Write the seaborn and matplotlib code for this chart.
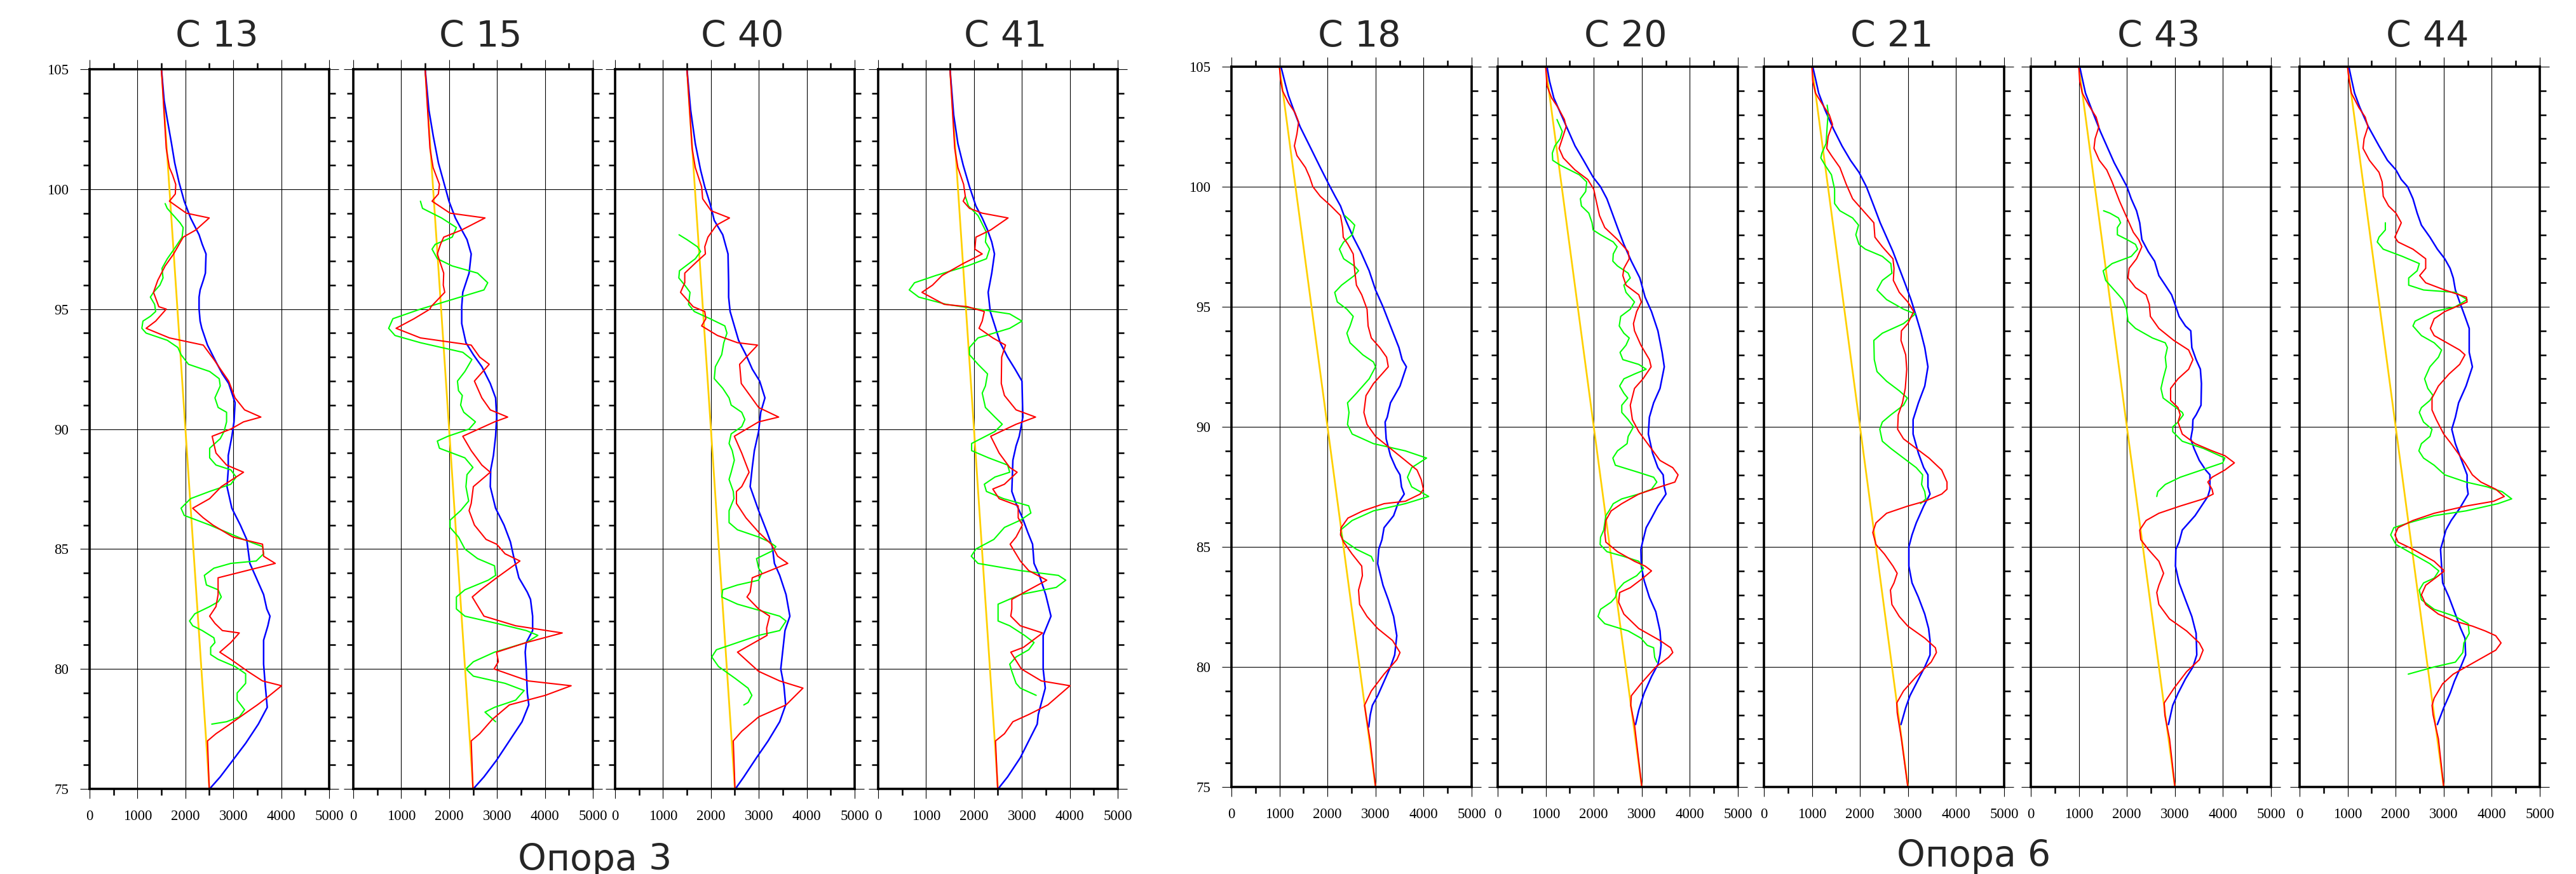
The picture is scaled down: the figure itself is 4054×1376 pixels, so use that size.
import matplotlib
matplotlib.use("Agg")
import matplotlib.pyplot as plt
from matplotlib.ticker import MultipleLocator
import seaborn as sns
import pandas as pd

sns.set_theme(style="white")
plt.rcParams["font.family"] = ["DejaVu Sans"]

# ── Data: (depth, value) pairs ────────────────────────────────────────────────
# group "Опора 3"
YELLOW_3 = [(105, 1500), (75, 2500)]

C13_BLUE = [(105, 1500), (103.7, 1556), (102.9, 1622), (101.9, 1710), (101.1, 1776), (100.3, 1865),
            (99.5, 1975), (98.8, 2108), (98.1, 2285), (97.7, 2351), (97.3, 2430), (96.5, 2417),
            (96.2, 2373), (95.8, 2307), (95.5, 2285), (95.0, 2285), (94.5, 2307), (94.2, 2342),
            (93.5, 2461), (92.8, 2638), (92.3, 2771), (91.9, 2903), (91.1, 3036), (90.3, 3014),
            (89.7, 2970), (88.9, 2894), (88.3, 2894), (87.6, 2868), (86.7, 2969), (86.0, 3146),
            (85.4, 3279), (84.4, 3345), (83.8, 3478), (83.1, 3632), (82.5, 3699), (82.2, 3765),
            (81.8, 3721), (81.2, 3632), (80.2, 3632), (79.4, 3663), (78.4, 3708), (77.7, 3522),
            (76.9, 3257), (76.2, 2992), (75.5, 2726), (75.0, 2505)]
C13_RED = [(105, 1500), (101.7, 1600), (100.9, 1666), (100.6, 1730), (100.2, 1798), (99.8, 1789),
           (99.5, 1666), (99.0, 2019), (98.8, 2497), (98.3, 2218), (98.0, 1953), (97.3, 1754),
           (96.8, 1577), (96.2, 1423), (95.7, 1334), (95.1, 1445), (95.0, 1600), (94.5, 1379),
           (94.2, 1180), (93.8, 1666), (93.5, 2373), (92.9, 2594), (92.0, 2903), (91.3, 3036),
           (90.8, 3235), (90.5, 3575), (90.3, 3213), (90.0, 2948), (89.7, 2558), (89.0, 2638),
           (88.5, 2859), (88.2, 3213), (87.6, 2749), (87.1, 2506), (86.7, 2152), (86.3, 2373),
           (86.0, 2572), (85.5, 2992), (85.2, 3610), (84.7, 3632), (84.4, 3875), (83.8, 2682),
           (83.1, 2682), (82.6, 2638), (82.2, 2505), (81.9, 2616), (81.6, 2771), (81.5, 3124),
           (81.1, 2947), (80.7, 2718), (80.4, 2948), (79.9, 3301), (79.5, 3610), (79.3, 4008),
           (78.8, 3699), (78.5, 3500), (78.1, 3213), (77.6, 2859), (77.3, 2638), (77.0, 2461),
           (75.0, 2497)]
C13_GREEN = [(99.4, 1577), (99.2, 1620), (98.9, 1754), (98.6, 1887), (98.4, 1953), (98.0, 1931),
             (97.6, 1798), (97.1, 1622), (96.7, 1511), (96.3, 1533), (96.0, 1467), (95.7, 1334),
             (95.5, 1268), (95.2, 1357), (94.9, 1379), (94.7, 1268), (94.5, 1113), (94.2, 1091),
             (94.0, 1180), (93.7, 1622), (93.4, 1842), (93.1, 1909), (92.7, 2064), (92.4, 2506),
             (92.1, 2705), (91.8, 2727), (91.3, 2616), (90.9, 2683), (90.7, 2859), (90.3, 2859),
             (89.9, 2806), (89.6, 2727), (89.2, 2506), (88.8, 2506), (88.5, 2638), (88.3, 2947),
             (88.0, 3058), (87.7, 2948), (87.4, 2506), (87.1, 2108), (86.7, 1909), (86.4, 1975),
             (86.0, 2506), (85.4, 3213), (85.1, 3610), (84.8, 3632), (84.5, 3478), (84.4, 2948),
             (84.2, 2594), (83.9, 2395), (83.5, 2439), (83.3, 2683), (83.0, 2749), (82.8, 2683),
             (82.6, 2506), (82.3, 2196), (82.0, 2086), (81.8, 2152), (81.6, 2351), (81.3, 2594),
             (81.1, 2616), (80.9, 2527), (80.6, 2527), (80.4, 2683), (80.1, 3036), (79.8, 3257),
             (79.4, 3257), (79.0, 3080), (78.7, 3080), (78.3, 3235), (78.0, 3124), (77.8, 2859),
             (77.7, 2550)]

C15_BLUE = [(105, 1500), (103.3, 1578), (102.2, 1670), (101.1, 1776), (100.3, 1887), (99.5, 1997),
            (98.8, 2130), (98.3, 2263), (97.9, 2373), (97.3, 2461), (96.5, 2417), (95.7, 2285),
            (95.1, 2263), (94.4, 2263), (93.6, 2351), (93.1, 2506), (92.6, 2683), (91.9, 2859),
            (91.3, 2970), (90.5, 2992), (89.7, 2970), (88.9, 2925), (88.3, 2868), (87.6, 2859),
            (86.7, 2970), (86.0, 3146), (85.3, 3279), (84.7, 3345), (83.8, 3456), (83.2, 3632),
            (82.9, 3699), (82.2, 3743), (81.6, 3743), (81.1, 3610), (80.7, 3588), (80.0, 3610),
            (79.0, 3632), (78.5, 3663), (77.8, 3522), (77.0, 3257), (76.2, 2992), (75.5, 2727),
            (75.0, 2505)]
C15_RED = [(105, 1500), (101.7, 1600), (100.9, 1666), (100.2, 1798), (99.8, 1776), (99.5, 1644),
           (99.0, 2020), (98.8, 2749), (98.3, 2263), (98.0, 1887), (97.7, 1820), (97.3, 1754),
           (96.9, 1820), (96.5, 1887), (96.0, 1878), (95.7, 1909), (95.1, 1622), (95.0, 1600),
           (94.6, 1268), (94.2, 893), (93.8, 1401), (93.5, 2461), (93.0, 2638), (92.7, 2837),
           (92.0, 2528), (91.3, 2683), (90.8, 2859), (90.5, 3222), (90.3, 2948), (89.7, 2285),
           (89.1, 2461), (88.5, 2683), (88.2, 2859), (87.6, 2506), (86.9, 2461), (86.6, 2417),
           (86.0, 2528), (85.4, 2771), (85.2, 2992), (84.8, 3168), (84.5, 3478), (83.8, 2992),
           (83.3, 2660), (83.0, 2483), (82.2, 2727), (81.8, 3389), (81.5, 4361), (81.1, 3610),
           (80.7, 2992), (80.3, 3027), (80.0, 2938), (79.5, 3654), (79.3, 4547), (78.9, 4008),
           (78.5, 3257), (77.9, 2903), (77.3, 2638), (77.0, 2461), (75.0, 2497)]
C15_GREEN = [(99.5, 1401), (99.2, 1445), (98.8, 1842), (98.4, 2152), (98.0, 2064), (97.7, 1710),
             (97.5, 1644), (97.1, 1754), (96.8, 2064), (96.5, 2594), (96.1, 2806), (95.8, 2727),
             (95.4, 2064), (95.0, 1401), (94.6, 826), (94.2, 738), (93.9, 871), (93.6, 1401),
             (93.4, 1842), (93.2, 2285), (92.9, 2475), (92.4, 2329), (92.0, 2174), (91.6, 2196),
             (91.4, 2276), (91.0, 2240), (90.7, 2306), (90.3, 2550), (90.0, 2417), (89.7, 1975),
             (89.5, 1754), (89.2, 1798), (88.8, 2329), (88.4, 2497), (88.1, 2373), (87.6, 2351),
             (87.0, 2408), (86.6, 2240), (86.2, 2020), (85.9, 2020), (85.5, 2196), (85.0, 2329),
             (84.6, 2594), (84.3, 2948), (83.9, 2970), (83.7, 2815), (83.3, 2329), (83.0, 2152),
             (82.5, 2152), (82.2, 2329), (81.9, 2992), (81.6, 3610), (81.4, 3853), (81.1, 3610),
             (80.7, 2948), (80.3, 2506), (80.0, 2351), (79.7, 2506), (79.4, 3168), (79.1, 3566),
             (78.7, 3389), (78.4, 2947), (78.2, 2749), (77.8, 2970)]

C40_BLUE = [(105, 1500), (103.3, 1577), (101.9, 1674), (100.8, 1784), (100.1, 1872), (99.4, 1982),
            (98.7, 2070), (98.1, 2247), (97.3, 2357), (96.1, 2370), (95.5, 2370), (94.9, 2401),
            (94.3, 2489), (93.7, 2577), (93.1, 2731), (92.5, 2863), (92.0, 3018), (91.3, 3128),
            (90.7, 3040), (89.9, 2996), (89.1, 2907), (88.4, 2863), (87.6, 2819), (86.6, 2996),
            (85.7, 3172), (85.1, 3282), (84.4, 3326), (83.9, 3436), (83.1, 3568), (82.2, 3648),
            (81.6, 3546), (80.8, 3502), (80.0, 3458), (79.3, 3524), (78.5, 3560), (77.8, 3436),
            (77.0, 3194), (76.3, 2952), (75.5, 2687), (75.0, 2511)]
C40_RED = [(105, 1500), (101.7, 1608), (100.9, 1674), (100.1, 1806), (99.6, 1828), (99.1, 2004),
           (98.8, 2388), (98.5, 2115), (98.0, 1938), (97.6, 1872), (97.3, 1885), (97.0, 1718),
           (96.5, 1454), (96.1, 1454), (95.7, 1366), (95.1, 1630), (94.9, 1872), (94.6, 1894),
           (94.3, 1806), (93.9, 2137), (93.6, 2555), (93.5, 2973), (92.7, 2599), (91.9, 2634),
           (90.9, 2996), (90.5, 3414), (90.3, 2996), (89.7, 2489), (89.0, 2643), (88.2, 2797),
           (87.6, 2643), (87.4, 2533), (86.9, 2533), (86.3, 2731), (85.7, 2996), (85.2, 3260),
           (84.7, 3392), (84.4, 3604), (83.8, 2863), (83.2, 2819), (83.0, 2753), (82.5, 2996),
           (82.2, 3225), (81.7, 3163), (81.4, 3172), (81.0, 2819), (80.7, 2555), (79.9, 2996),
           (79.5, 3436), (79.2, 3921), (78.5, 3568), (78.0, 2996), (77.7, 2819), (77.4, 2643),
           (77.0, 2467), (75.0, 2502)]
C40_GREEN = [(98.1, 1335), (97.9, 1498), (97.6, 1718), (97.4, 1784), (97.1, 1674), (96.6, 1344),
             (96.3, 1330), (96.0, 1454), (95.7, 1564), (95.2, 1533), (94.9, 1652), (94.6, 1982),
             (94.3, 2291), (94.0, 2335), (93.6, 2269), (93.1, 2225), (92.6, 2093), (92.1, 2070),
             (91.7, 2247), (91.3, 2379), (91.0, 2423), (90.7, 2643), (90.4, 2709), (90.1, 2643),
             (89.8, 2423), (89.4, 2379), (89.1, 2445), (88.7, 2489), (88.2, 2423), (87.9, 2379),
             (87.4, 2467), (87.1, 2480), (86.6, 2379), (86.1, 2379), (85.8, 2555), (85.5, 2996),
             (85.3, 3216), (85.1, 3357), (84.9, 3260), (84.6, 2952), (84.2, 2996), (84.0, 3062),
             (83.7, 2996), (83.5, 2555), (83.3, 2247), (83.0, 2225), (82.7, 2555), (82.4, 3084),
             (82.2, 3436), (82.0, 3568), (81.6, 3436), (81.4, 2996), (81.1, 2555), (80.8, 2115),
             (80.5, 2018), (80.1, 2159), (79.6, 2511), (79.2, 2775), (78.9, 2855), (78.6, 2775),
             (78.5, 2687)]

C41_BLUE = [(105, 1500), (103.1, 1576), (101.9, 1664), (101.0, 1775), (100.1, 1907), (99.3, 2040),
            (98.8, 2172), (98.3, 2283), (97.8, 2371), (97.3, 2428), (96.5, 2371), (95.7, 2296),
            (94.9, 2340), (94.3, 2437), (93.6, 2547), (93.0, 2702), (92.5, 2857), (92.0, 3002),
            (90.5, 3020), (89.7, 2945), (89.3, 2879), (88.7, 2812), (87.4, 2790), (86.9, 2879),
            (86.3, 3011), (85.7, 3122), (85.2, 3223), (84.4, 3254), (83.9, 3364), (83.1, 3497),
            (82.2, 3607), (81.4, 3444), (80.0, 3444), (79.2, 3488), (78.6, 3408), (78.1, 3342),
            (77.7, 3320), (77.0, 3143), (76.3, 2967), (75.5, 2702), (75.0, 2503)]
C41_RED = [(105, 1500), (101.7, 1598), (100.9, 1664), (100.2, 1784), (99.7, 1819), (99.5, 1775),
           (99.2, 1907), (99.0, 2172), (98.8, 2711), (98.3, 2349), (98.0, 2040), (97.5, 2018),
           (97.3, 2172), (96.9, 1775), (96.4, 1333), (96.0, 1135), (95.7, 914), (95.2, 1377),
           (95.1, 1863), (94.9, 2216), (94.5, 2172), (94.2, 2106), (93.8, 2393), (93.5, 2658),
           (93.0, 2578), (91.9, 2570), (91.4, 2636), (90.8, 2879), (90.5, 3285), (90.2, 2879),
           (89.7, 2349), (89.0, 2525), (88.4, 2746), (88.2, 2901), (87.7, 2636), (87.5, 2393),
           (87.1, 2525), (86.8, 2923), (86.3, 2923), (86.0, 3011), (85.5, 2879), (85.2, 2755),
           (84.5, 2967), (84.1, 3143), (83.7, 3519), (83.2, 3055), (82.9, 2790), (82.5, 2790),
           (82.2, 2768), (81.8, 2967), (81.5, 3431), (80.9, 3033), (80.7, 2768), (80.0, 2989),
           (79.5, 3408), (79.3, 4004), (78.5, 3541), (78.1, 3143), (77.8, 2812), (77.3, 2636),
           (77.0, 2450), (75.0, 2494)]
C41_GREEN = [(99.7, 1819), (99.3, 1885), (98.9, 2084), (98.2, 2260), (97.8, 2239), (97.5, 2327),
             (97.1, 2260), (96.8, 1863), (96.4, 1201), (96.1, 759), (95.8, 649), (95.5, 848),
             (95.2, 1421), (95.0, 2084), (94.8, 2746), (94.5, 3002), (94.2, 2746), (93.8, 2084),
             (93.4, 1907), (93.1, 1907), (92.7, 2084), (92.3, 2283), (91.8, 2239), (91.5, 2172),
             (90.9, 2239), (90.5, 2437), (90.2, 2591), (89.9, 2437), (89.4, 1951), (89.1, 1951),
             (88.8, 2305), (88.5, 2702), (88.2, 2746), (88.0, 2437), (87.7, 2216), (87.4, 2260),
             (87.1, 2614), (86.8, 3143), (86.5, 3188), (86.2, 2967), (85.9, 2636), (85.4, 2415),
             (85.0, 2040), (84.7, 1943), (84.4, 2084), (84.1, 2967), (83.9, 3762), (83.7, 3916),
             (83.4, 3717), (83.1, 2967), (82.7, 2503), (82.0, 2503), (81.8, 2746), (81.4, 3055),
             (81.1, 3254), (80.8, 3143), (80.5, 2879), (80.2, 2746), (79.9, 2790), (79.4, 2879),
             (79.2, 2967), (78.9, 3298)]

# group "Опора 6"
YELLOW_6 = [(105, 1000), (75, 3000)]

C18_BLUE = [(105, 1031), (104.3, 1119), (103.8, 1186), (103.2, 1296), (102.5, 1429), (101.7, 1628),
            (100.8, 1850), (100.1, 2027), (99.6, 2159), (99.2, 2270), (98.6, 2381), (97.9, 2535),
            (97.3, 2690), (96.5, 2867), (95.7, 3000), (95.0, 3155), (94.2, 3310), (93.3, 3487),
            (92.8, 3553), (92.5, 3642), (91.7, 3509), (91.0, 3310), (90.4, 3243), (90.2, 3199),
            (89.5, 3221), (88.8, 3310), (88.3, 3420), (88.0, 3509), (87.5, 3540), (87.2, 3597),
            (86.8, 3465), (86.3, 3376), (85.8, 3177), (85.3, 3133), (84.9, 3066), (84.3, 3044),
            (83.4, 3155), (82.8, 3265), (82.1, 3376), (81.3, 3442), (80.5, 3398), (80.0, 3310),
            (79.4, 3177), (78.8, 3044), (78.4, 2934), (78.0, 2889), (77.5, 2858)]
C18_RED = [(105, 1000), (104.5, 1018), (104.0, 1062), (103.5, 1186), (103.1, 1319), (102.7, 1398),
           (102.2, 1363), (101.7, 1310), (101.3, 1363), (100.8, 1540), (100.4, 1628), (100.0, 1695),
           (99.6, 1850), (99.2, 2071), (98.8, 2270), (98.3, 2314), (97.9, 2327), (97.6, 2425),
           (97.2, 2535), (96.5, 2566), (95.9, 2602), (95.5, 2712), (94.9, 2823), (94.2, 2845),
           (93.7, 2912), (93.3, 3088), (92.9, 3230), (92.5, 3265), (92.2, 3133), (91.8, 2956),
           (91.3, 2801), (90.6, 2757), (90.1, 2823), (89.6, 3000), (89.1, 3310), (88.6, 3619),
           (88.2, 3863), (87.8, 3951), (87.4, 3996), (87.2, 3929), (86.9, 3619), (86.8, 3177),
           (86.5, 2735), (86.2, 2425), (85.8, 2283), (85.5, 2270), (85.2, 2336), (84.7, 2513),
           (84.2, 2712), (83.8, 2726), (83.2, 2646), (82.6, 2668), (82.1, 2823), (81.6, 3044),
           (81.1, 3354), (80.6, 3509), (80.3, 3442), (79.7, 3177), (79.0, 2912), (78.4, 2770),
           (78.0, 2801), (76.9, 2889), (75.0, 3000)]
C18_GREEN = [(98.8, 2358), (98.6, 2469), (98.4, 2566), (98.0, 2513), (97.7, 2336), (97.4, 2248),
             (97.0, 2336), (96.7, 2558), (96.5, 2646), (96.3, 2558), (95.9, 2292), (95.6, 2150),
             (95.2, 2204), (94.9, 2403), (94.6, 2535), (94.2, 2469), (93.9, 2403), (93.5, 2469),
             (93.0, 2735), (92.7, 2956), (92.5, 3000), (92.0, 2867), (91.4, 2602), (91.0, 2416),
             (90.6, 2447), (90.1, 2416), (89.7, 2513), (89.3, 2956), (89.0, 3619), (88.7, 4062),
             (88.3, 3752), (87.9, 3664), (87.5, 3752), (87.1, 4106), (86.8, 3619), (86.5, 2956),
             (86.1, 2513), (85.7, 2270), (85.3, 2314), (84.9, 2602), (84.6, 2912), (84.4, 2956)]

C20_BLUE = [(105, 1026), (104.4, 1079), (103.7, 1168), (103.1, 1300), (102.5, 1433), (101.7, 1610),
            (101.1, 1787), (100.4, 1986), (100.0, 2141), (99.5, 2273), (98.9, 2384), (98.3, 2494),
            (97.6, 2627), (96.9, 2782), (96.2, 2959), (95.4, 3069), (94.8, 3202), (94.0, 3335),
            (93.1, 3423), (92.5, 3468), (91.6, 3379), (91.0, 3246), (90.4, 3158), (89.7, 3136),
            (88.9, 3225), (88.3, 3335), (88.0, 3445), (87.5, 3467), (87.2, 3503), (86.7, 3335),
            (86.2, 3202), (85.8, 3091), (85.2, 3016), (84.9, 2981), (84.2, 2990), (83.6, 3048),
            (82.9, 3158), (82.3, 3291), (81.5, 3379), (80.9, 3401), (80.5, 3379), (80.1, 3335),
            (79.6, 3202), (78.9, 3047), (78.2, 2937), (77.6, 2870)]
C20_RED = [(105, 1000), (104.2, 1026), (103.7, 1123), (103.3, 1256), (102.8, 1389), (102.5, 1424),
           (102.0, 1344), (101.6, 1278), (101.2, 1366), (100.7, 1610), (100.3, 1875), (99.9, 1999),
           (99.4, 2052), (98.8, 2119), (98.3, 2229), (97.8, 2494), (97.3, 2716), (97.0, 2738),
           (96.6, 2627), (96.3, 2605), (95.9, 2672), (95.5, 2937), (95.2, 2990), (94.8, 2893),
           (94.3, 2826), (94.0, 2848), (93.4, 2981), (92.8, 3158), (92.5, 3194), (92.0, 3025),
           (91.6, 2848), (90.9, 2760), (90.3, 2804), (89.8, 2937), (89.2, 3158), (88.6, 3379),
           (88.3, 3644), (88.0, 3755), (87.7, 3689), (87.5, 3379), (87.2, 2937), (86.8, 2583),
           (86.5, 2362), (86.1, 2251), (85.6, 2229), (85.2, 2251), (84.8, 2494), (84.4, 2848),
           (84.2, 3069), (84.0, 3202), (83.7, 3025), (83.3, 2760), (83.1, 2539), (82.7, 2517),
           (82.2, 2627), (81.6, 2937), (81.1, 3379), (80.8, 3600), (80.6, 3645), (80.4, 3556),
           (80.0, 3291), (79.3, 2981), (78.8, 2782), (78.4, 2769), (77.6, 2848), (75.0, 3000)]
C20_GREEN = [(102.8, 1234), (102.5, 1300), (102.3, 1345), (102.0, 1300), (101.7, 1190), (101.4, 1137),
             (101.1, 1146), (100.9, 1300), (100.5, 1698), (100.2, 1853), (99.8, 1831), (99.5, 1721),
             (99.2, 1743), (98.9, 1897), (98.5, 1964), (98.2, 1986), (98.0, 2141), (97.7, 2406),
             (97.5, 2486), (97.2, 2406), (96.9, 2397), (96.7, 2494), (96.4, 2716), (96.2, 2760),
             (95.9, 2627), (95.6, 2671), (95.2, 2848), (94.9, 2760), (94.6, 2561), (94.2, 2530),
             (93.9, 2627), (93.7, 2738), (93.4, 2671), (93.1, 2547), (92.8, 2605), (92.6, 2937),
             (92.4, 3091), (92.2, 2848), (92.0, 2627), (91.7, 2539), (91.4, 2627), (91.2, 2707),
             (90.9, 2583), (90.6, 2583), (90.3, 2716), (90.0, 2826), (89.6, 2716), (89.3, 2694),
             (89.0, 2494), (88.7, 2397), (88.4, 2450), (88.1, 2937), (87.9, 3247), (87.7, 3313),
             (87.4, 3202), (87.2, 2937), (87.0, 2583), (86.8, 2406), (86.5, 2318), (86.3, 2251),
             (86.0, 2229), (85.7, 2207), (85.4, 2141), (85.1, 2132), (84.8, 2274), (84.6, 2627),
             (84.4, 2937), (84.1, 3034), (83.8, 2893), (83.5, 2627), (83.2, 2494), (82.9, 2450),
             (82.7, 2362), (82.4, 2141), (82.1, 2088), (81.8, 2229), (81.5, 2716), (81.2, 2981),
             (80.9, 3113), (80.8, 3246), (80.4, 3268), (80.2, 3313)]

C21_BLUE = [(105, 1016), (104.5, 1073), (103.9, 1140), (103.2, 1272), (102.4, 1449), (101.7, 1625),
            (101.1, 1802), (100.6, 1979), (100.0, 2133), (99.2, 2288), (98.5, 2420), (97.9, 2553),
            (97.3, 2686), (96.6, 2818), (95.9, 2951), (95.3, 3061), (94.6, 3171), (94.0, 3260),
            (93.3, 3348), (92.5, 3414), (91.7, 3348), (91.0, 3216), (90.3, 3105), (89.7, 3105),
            (88.9, 3216), (88.3, 3326), (88.0, 3414), (87.5, 3414), (87.2, 3458), (86.7, 3326),
            (86.0, 3171), (85.5, 3083), (85.0, 3017), (84.2, 3017), (83.5, 3083), (82.9, 3216),
            (82.2, 3348), (81.6, 3428), (81.1, 3458), (80.5, 3458), (80.0, 3348), (79.4, 3194),
            (78.8, 3039), (78.3, 2951), (77.6, 2853)]
C21_RED = [(105, 1000), (104.4, 1016), (103.9, 1073), (103.4, 1228), (103.0, 1360), (102.6, 1427),
           (102.1, 1338), (101.6, 1307), (101.3, 1405), (100.8, 1581), (100.1, 1714), (99.5, 1846),
           (98.9, 2111), (98.5, 2288), (97.9, 2310), (97.5, 2465), (97.0, 2686), (96.6, 2708),
           (96.1, 2694), (95.6, 2818), (95.2, 2995), (94.8, 3118), (94.3, 2995), (94.0, 2862),
           (93.6, 2853), (93.0, 2951), (92.4, 2973), (91.6, 2942), (91.0, 2884), (90.5, 2796),
           (89.9, 2783), (89.5, 2906), (89.1, 3171), (88.7, 3436), (88.2, 3701), (87.7, 3811),
           (87.4, 3811), (87.2, 3701), (86.9, 3348), (86.7, 2995), (86.4, 2553), (86.0, 2332),
           (85.6, 2266), (85.1, 2332), (84.7, 2509), (84.2, 2686), (83.9, 2774), (83.5, 2708),
           (83.2, 2633), (82.6, 2664), (82.1, 2818), (81.7, 2995), (81.2, 3348), (80.8, 3569),
           (80.6, 3591), (80.2, 3480), (79.6, 3171), (79.0, 2906), (78.5, 2765), (78.1, 2774),
           (77.0, 2862), (75.0, 2995)]
C21_GREEN = [(103.4, 1316), (103.1, 1338), (102.5, 1316), (101.8, 1294), (101.4, 1206), (101.2, 1184),
             (100.9, 1272), (100.5, 1405), (99.9, 1471), (99.3, 1471), (99.0, 1581), (98.7, 1846),
             (98.4, 1970), (98.0, 1913), (97.6, 1979), (97.4, 2111), (97.1, 2465), (96.8, 2642),
             (96.4, 2664), (96.1, 2465), (95.7, 2354), (95.3, 2553), (94.9, 2906), (94.7, 3151),
             (94.3, 2906), (93.9, 2465), (93.6, 2288), (92.8, 2297), (92.3, 2354), (91.9, 2553),
             (91.5, 2818), (91.2, 2986), (90.9, 2906), (90.5, 2642), (90.2, 2465), (89.9, 2412),
             (89.4, 2465), (89.1, 2642), (88.7, 2906), (88.3, 3171), (88.0, 3304), (87.6, 3282),
             (87.3, 3348), (87.0, 3370), (86.8, 3260)]

C43_BLUE = [(105, 1018), (104.5, 1072), (103.9, 1138), (103.2, 1271), (102.3, 1448), (101.6, 1603),
            (101.0, 1736), (100.5, 1869), (100.0, 2002), (99.5, 2090), (99.0, 2201), (98.5, 2267),
            (97.8, 2312), (97.3, 2444), (96.9, 2577), (96.3, 2666), (95.9, 2799), (95.5, 2931),
            (95.0, 3020), (94.6, 3087), (94.2, 3219), (94.0, 3330), (93.3, 3352), (92.8, 3441),
            (92.4, 3530), (91.8, 3552), (90.9, 3543), (90.5, 3441), (90.3, 3375), (89.9, 3366),
            (89.5, 3330), (89.1, 3397), (88.6, 3508), (88.2, 3640), (88.0, 3729), (87.4, 3729),
            (87.1, 3685), (86.7, 3552), (86.3, 3419), (86.0, 3286), (85.7, 3153), (85.2, 3087),
            (84.9, 3020), (84.2, 3011), (83.5, 3087), (82.8, 3219), (82.1, 3352), (81.4, 3441),
            (80.5, 3455), (80.0, 3375), (79.5, 3219), (78.9, 3065), (78.4, 2954), (77.6, 2865)]
C43_RED = [(105, 1000), (104.4, 1018), (103.9, 1072), (103.4, 1205), (102.9, 1360), (102.5, 1417),
           (102.0, 1338), (101.6, 1315), (101.1, 1426), (100.7, 1581), (100.2, 1692), (99.4, 1847),
           (98.7, 2002), (98.1, 2135), (97.8, 2245), (97.5, 2312), (97.0, 2201), (96.6, 2046),
           (96.2, 2024), (95.8, 2179), (95.5, 2400), (95.1, 2467), (94.6, 2489), (94.1, 2666),
           (93.6, 2976), (93.2, 3286), (92.8, 3375), (92.4, 3286), (92.0, 3065), (91.6, 2910),
           (91.1, 2910), (90.8, 3065), (90.5, 3109), (90.2, 3065), (89.7, 3153), (89.3, 3419),
           (89.0, 3773), (88.8, 4039), (88.5, 4238), (88.2, 4039), (87.9, 3773), (87.7, 3685),
           (87.4, 3773), (87.2, 3796), (87.0, 3596), (86.7, 3109), (86.4, 2666), (86.1, 2400),
           (85.7, 2267), (85.3, 2290), (84.9, 2445), (84.4, 2666), (83.9, 2764), (83.4, 2666),
           (83.1, 2622), (82.6, 2666), (82.0, 2887), (81.5, 3242), (81.0, 3508), (80.7, 3587),
           (80.3, 3508), (79.8, 3242), (79.1, 2976), (78.5, 2777), (78.0, 2790), (77.0, 2888),
           (75.0, 3000)]
C43_GREEN = [(99.0, 1515), (98.9, 1647), (98.7, 1825), (98.5, 1869), (98.3, 1802), (98.0, 1802),
             (97.8, 2002), (97.6, 2179), (97.4, 2223), (97.1, 2091), (96.8, 1692), (96.5, 1506),
             (96.1, 1559), (95.7, 1736), (95.3, 1913), (94.9, 1993), (94.4, 2024), (94.1, 2179),
             (93.7, 2533), (93.5, 2799), (93.3, 2843), (92.9, 2799), (92.5, 2821), (92.0, 2755),
             (91.6, 2710), (91.2, 2755), (91.0, 2888), (90.6, 3153), (90.5, 3175), (90.2, 3065),
             (90.0, 2954), (89.8, 2954), (89.4, 3153), (89.1, 3596), (88.7, 4039), (88.5, 3995),
             (88.2, 3552), (87.9, 3109), (87.6, 2799), (87.3, 2644), (87.1, 2622)]

C44_BLUE = [(105, 1025), (104.5, 1078), (103.9, 1144), (103.3, 1255), (102.5, 1432), (101.7, 1653),
            (101.1, 1829), (100.7, 2006), (100.3, 2117), (100.0, 2249), (99.5, 2360), (98.9, 2448),
            (98.4, 2536), (97.9, 2713), (97.4, 2868), (97.0, 3022), (96.6, 3133), (96.2, 3199),
            (95.7, 3243), (95.2, 3332), (94.6, 3442), (94.1, 3531), (93.1, 3531), (92.5, 3597),
            (91.7, 3465), (91.0, 3310), (90.4, 3243), (89.9, 3168), (89.3, 3243), (88.7, 3354),
            (88.0, 3487), (87.5, 3487), (87.2, 3509), (86.6, 3332), (86.1, 3155), (85.7, 3045),
            (85.2, 2978), (84.9, 2934), (84.2, 2956), (83.5, 2978), (82.9, 3111), (82.2, 3243),
            (81.6, 3354), (81.2, 3442), (80.5, 3456), (80.0, 3354), (79.4, 3222), (78.9, 3133),
            (78.3, 3000), (77.6, 2868)]
C44_RED = [(105, 1000), (104.5, 1025), (103.9, 1078), (103.3, 1233), (102.9, 1366), (102.5, 1423),
           (102.0, 1343), (101.6, 1321), (101.1, 1454), (100.6, 1653), (100.2, 1719), (99.6, 1741),
           (99.2, 1852), (98.9, 2006), (98.5, 2117), (97.9, 1984), (97.7, 2050), (97.4, 2360),
           (97.0, 2625), (96.6, 2625), (96.3, 2500), (96.0, 2625), (95.7, 3022), (95.4, 3473),
           (95.2, 3487), (94.8, 3022), (94.5, 2802), (94.1, 2722), (93.8, 2802), (93.5, 3067),
           (93.2, 3332), (93.0, 3443), (92.6, 3332), (92.2, 3111), (91.7, 2890), (91.2, 2757),
           (90.7, 2757), (90.3, 2846), (89.7, 3000), (89.3, 3155), (88.5, 3442), (88.0, 3597),
           (87.7, 3774), (87.4, 4084), (87.1, 4261), (86.9, 4039), (86.7, 3464), (86.4, 2802),
           (86.1, 2360), (85.8, 2050), (85.5, 1984), (85.2, 2050), (84.9, 2360), (84.4, 2802),
           (84.0, 3013), (83.8, 2890), (83.4, 2625), (83.0, 2536), (82.6, 2625), (82.2, 2890),
           (81.9, 3243), (81.7, 3597), (81.5, 3862), (81.3, 4083), (81.0, 4194), (80.7, 4084),
           (80.4, 3818), (80.0, 3464), (79.7, 3199), (79.3, 2978), (78.7, 2802), (78.4, 2757),
           (78.0, 2779), (77.0, 2890), (75.0, 3000)]
C44_GREEN = [(98.5, 1785), (98.2, 1785), (97.9, 1653), (97.7, 1617), (97.4, 1741), (97.1, 2139),
             (96.8, 2492), (96.5, 2448), (96.2, 2271), (95.9, 2271), (95.7, 2581), (95.6, 3243),
             (95.3, 3487), (95.0, 3243), (94.8, 2802), (94.4, 2404), (94.2, 2360), (93.8, 2536),
             (93.5, 2802), (93.2, 2956), (92.9, 2890), (92.5, 2713), (92.0, 2602), (91.6, 2669),
             (91.3, 2779), (91.1, 2713), (90.8, 2536), (90.6, 2492), (90.2, 2580), (89.9, 2757),
             (89.6, 2713), (89.3, 2536), (89.0, 2483), (88.7, 2580), (88.4, 2802), (88.0, 3022),
             (87.7, 3464), (87.5, 3906), (87.3, 4216), (87.0, 4415), (86.8, 4128), (86.5, 3464),
             (86.3, 2802), (86.0, 2271), (85.8, 1962), (85.5, 1896), (85.1, 2006), (84.7, 2360),
             (84.3, 2713), (84.0, 2899), (83.7, 2802), (83.5, 2581), (83.2, 2492), (82.8, 2536),
             (82.4, 2802), (82.1, 3243), (81.8, 3509), (81.4, 3531), (81.0, 3420), (80.6, 3398),
             (80.2, 3243), (80.0, 2802), (79.7, 2262)]

TITLES_3 = ["С 13", "С 15", "С 40", "С 41"]
TITLES_6 = ["С 18", "С 20", "С 21", "С 43", "С 44"]
GROUP_LABELS = ["Опора 3", "Опора 6"]

BLUE, RED, GREEN, YELLOW = "#0000ff", "#ff0000", "#00ff00", "#ffd000"

# ── Layout (pixels) ───────────────────────────────────────────────────────────
W, H = 4055, 1376
LEFTS_3, WIDTH_3, TOP_3, BOTTOM_3 = [141, 556, 968, 1382], 377, 109, 1242
LEFTS_6, WIDTH_6, TOP_6, BOTTOM_6 = [1938, 2357, 2776, 3196, 3619], 378, 105, 1239

panels_3 = [(C13_BLUE, C13_RED, C13_GREEN), (C15_BLUE, C15_RED, C15_GREEN),
            (C40_BLUE, C40_RED, C40_GREEN), (C41_BLUE, C41_RED, C41_GREEN)]
panels_6 = [(C18_BLUE, C18_RED, C18_GREEN), (C20_BLUE, C20_RED, C20_GREEN),
            (C21_BLUE, C21_RED, C21_GREEN), (C43_BLUE, C43_RED, C43_GREEN),
            (C44_BLUE, C44_RED, C44_GREEN)]


def draw_line(ax, pts, color, lw):
    d = pd.DataFrame(pts, columns=["depth", "v"])
    sns.lineplot(data=d, x="v", y="depth", sort=False, estimator=None,
                 color=color, linewidth=lw, ax=ax, legend=False)


def style_axes(ax, show_y):
    ax.set_xlim(0, 5000)
    ax.set_ylim(75, 105)
    ax.set_xlabel("")
    ax.set_ylabel("")
    ax.xaxis.set_major_locator(MultipleLocator(1000))
    ax.xaxis.set_minor_locator(MultipleLocator(500))
    ax.yaxis.set_major_locator(MultipleLocator(5))
    ax.yaxis.set_minor_locator(MultipleLocator(1))
    ax.grid(True, which="major", color="black", linewidth=0.8)
    ax.grid(False, which="minor")
    ax.tick_params(which="major", direction="out", length=10.5, width=0.8, color="black",
                   top=True, right=True, bottom=True, left=True,
                   labelsize=16.5, labelcolor="black", pad=13,
                   labelfontfamily="Liberation Serif",
                   labelleft=show_y, labelright=False, labeltop=False)
    ax.tick_params(which="minor", direction="out", length=7, width=1.8, color="black",
                   top=True, right=True, bottom=True, left=True)
    for s in ax.spines.values():
        s.set_visible(True)
        s.set_color("black")
        s.set_linewidth(2.6)


fig = plt.figure(figsize=(W / 100, H / 100), dpi=100)

groups = [(LEFTS_3, WIDTH_3, TOP_3, BOTTOM_3, panels_3, TITLES_3, YELLOW_3),
          (LEFTS_6, WIDTH_6, TOP_6, BOTTOM_6, panels_6, TITLES_6, YELLOW_6)]

for lefts, width, top, bottom, panels, titles, yellow in groups:
    for i, (left, (blue, red, green), title) in enumerate(zip(lefts, panels, titles)):
        ax = fig.add_axes([left / W, 1 - bottom / H, width / W, (bottom - top) / H])
        draw_line(ax, yellow, YELLOW, 2.0)
        draw_line(ax, blue, BLUE, 1.8)
        draw_line(ax, green, GREEN, 1.5)
        draw_line(ax, red, RED, 1.5)
        style_axes(ax, show_y=(i == 0))
        fig.text((left + width / 2 + 12) / W, 1 - 59 / H, title, fontsize=41,
                 ha="center", va="center", family="DejaVu Sans")

fig.text(936 / W, 1 - 1370 / H, GROUP_LABELS[0], fontsize=41, ha="center", va="baseline",
         family="DejaVu Sans")
fig.text(3106 / W, 1 - 1364 / H, GROUP_LABELS[1], fontsize=41, ha="center", va="baseline",
         family="DejaVu Sans")

fig.savefig("out.png", dpi=100)
